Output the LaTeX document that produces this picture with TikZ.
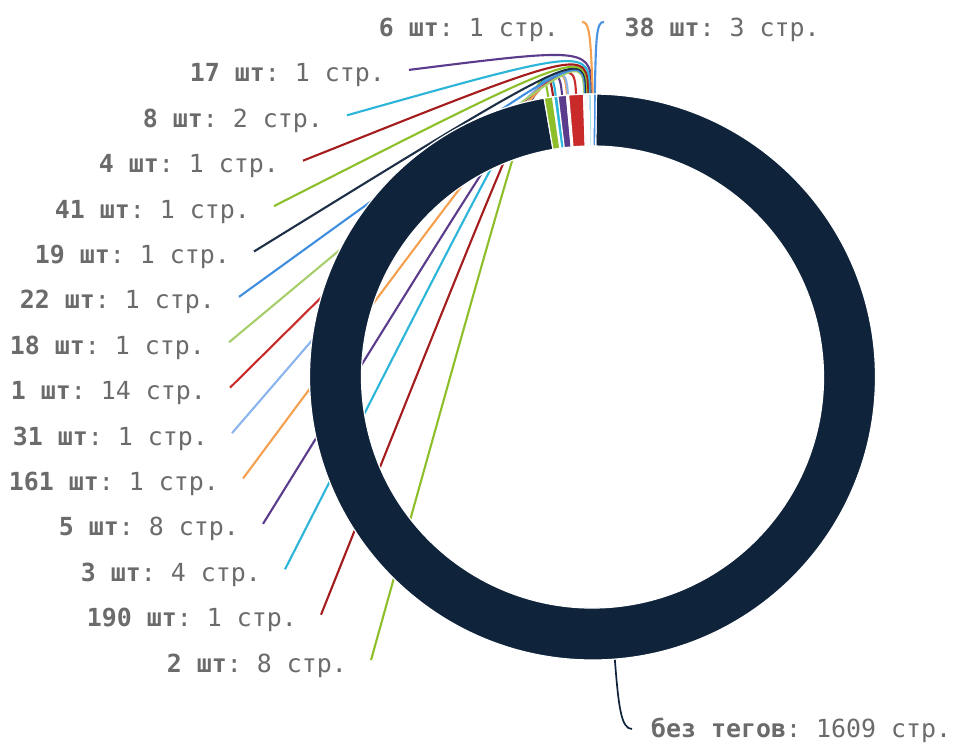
\documentclass[tikz,border=0pt]{standalone}
\usepackage{fontspec}
\setmonofont{DejaVu Sans Mono}
\usetikzlibrary{calc}
\definecolor{cnavy}{HTML}{0F233A}
\definecolor{cgreen}{HTML}{8DBF2A}
\definecolor{cdred}{HTML}{A51C1C}
\definecolor{ccyan}{HTML}{2BB5D8}
\definecolor{cpurple}{HTML}{5B3B8C}
\definecolor{corange}{HTML}{F5A04F}
\definecolor{clblue}{HTML}{8AB4EE}
\definecolor{cred}{HTML}{C92B2B}
\definecolor{clgreen}{HTML}{A6CE6B}
\definecolor{cblue}{HTML}{3F8EE0}
\definecolor{cnavytwo}{HTML}{1D3048}
\definecolor{cbluetwo}{HTML}{4A93E4}
\definecolor{txtgray}{HTML}{6B6B6B}
\newcommand{\donutslice}[3]{%
  \fill[#3, draw=white, line width=1.2pt] ($(O)+(#1:283)$) arc[start angle=#1, end angle=#2, radius=283]
    -- ($(O)+(#2:231)$) arc[start angle=#2, end angle=#1, radius=231] -- cycle;}
\begin{document}
\begin{tikzpicture}[x=1pt,y=-1pt,
  lbl/.style={font=\ttfamily\fontsize{24.9}{24.9}\selectfont, text=txtgray, inner sep=0pt},
  lead/.style={line width=2.1pt}]
\useasboundingbox[fill=white] (0,0) rectangle (953,744);
\coordinate (O) at (592.5,377);
\def\uu{0.217129}
% leader lines and labels on the left
\foreach \nm/\cum/\cnt/\col/\bnum/\rest/\tx/\row in {
  a/0/8/cgreen/2/8/345/14,
  b/8/1/cdred/190/1/295/13,
  c/9/4/ccyan/3/4/259/12,
  d/13/8/cpurple/5/8/237/11,
  e/21/1/corange/161/1/217/10,
  f/22/1/clblue/31/1/206/9,
  g/23/14/cred/1/14/204/8,
  h/37/1/clgreen/18/1/203/7,
  i/38/1/cblue/22/1/213/6,
  j/39/1/cnavytwo/19/1/228/5,
  k/40/1/cgreen/41/1/248/4,
  l/41/1/cdred/4/1/277/3,
  m/42/2/ccyan/8/2/321/2,
  n/44/1/cpurple/17/1/383/1}{
  \pgfmathsetmacro\mid{-99.84+(\cum+\cnt/2)*\uu}
  \pgfmathsetmacro\by{36.5+45.4*\row}
  \coordinate (s\nm) at ($(O)+(\mid:283)$);
  \coordinate (c\nm) at ($(O)+(\mid:330)$);
  \node[lbl, anchor=base east] (l\nm) at (\tx+2,\by) {\textbf{\bnum\ шт}: \rest\ стр.};
  \coordinate (e\nm) at (\tx+26,\by-12);
  \draw[lead, \col] (s\nm) .. controls (c\nm) and (c\nm) .. (e\nm);
}
% 6 and 38 at the top
\pgfmathsetmacro\midsix{-99.84+45.5*\uu}
\pgfmathsetmacro\midtt{-99.84+47.5*\uu}
\coordinate (ssix) at ($(O)+(\midsix:283)$);
\coordinate (stt) at ($(O)+(\midtt:283)$);
\node[lbl, anchor=base east] (lsix) at (559,36.5) {\textbf{6 шт}: 1 стр.};
\node[lbl, anchor=base west] (ltt) at (624.5,36.5) {\textbf{38 шт}: 3 стр.};
\coordinate (esix) at (582,22);
\coordinate (ett) at (604,22);
\draw[lead, corange] (ssix) .. controls ($(ssix)+(-2,-62)$) and ($(esix)+(7,0)$) .. (esix);
\draw[lead, cbluetwo] (stt) .. controls ($(stt)+(1,-62)$) and ($(ett)+(-7,0)$) .. (ett);
% big slice label
\coordinate (sbig) at ($(O)+(85.48:283)$);
\coordinate (cbig) at ($(O)+(85.48:330)$);
\node[lbl, anchor=base west] (lbig) at (651,737) {\textbf{без тегов}: 1609 стр.};
\coordinate (ebig) at (632,729);
\draw[lead, cnavy, line width=1.7pt] (sbig) .. controls (cbig) and ($(ebig)+(-11,0)$) .. (ebig);
% donut
\donutslice{-89.2}{260.16}{cnavy}
\foreach \cum/\cnt/\col in {0/8/cgreen,8/1/cdred,9/4/ccyan,13/8/cpurple,21/1/corange,22/1/clblue,
  23/14/cred,37/1/clgreen,38/1/cblue,39/1/cnavytwo,40/1/cgreen,41/1/cdred,42/2/ccyan,44/1/cpurple,
  45/1/corange,46/3/cbluetwo}{
  \pgfmathsetmacro\sa{-99.84+\cum*\uu}
  \pgfmathsetmacro\ea{-99.84+(\cum+\cnt)*\uu}
  \donutslice{\sa}{\ea}{\col}
}
\end{tikzpicture}
\end{document}
